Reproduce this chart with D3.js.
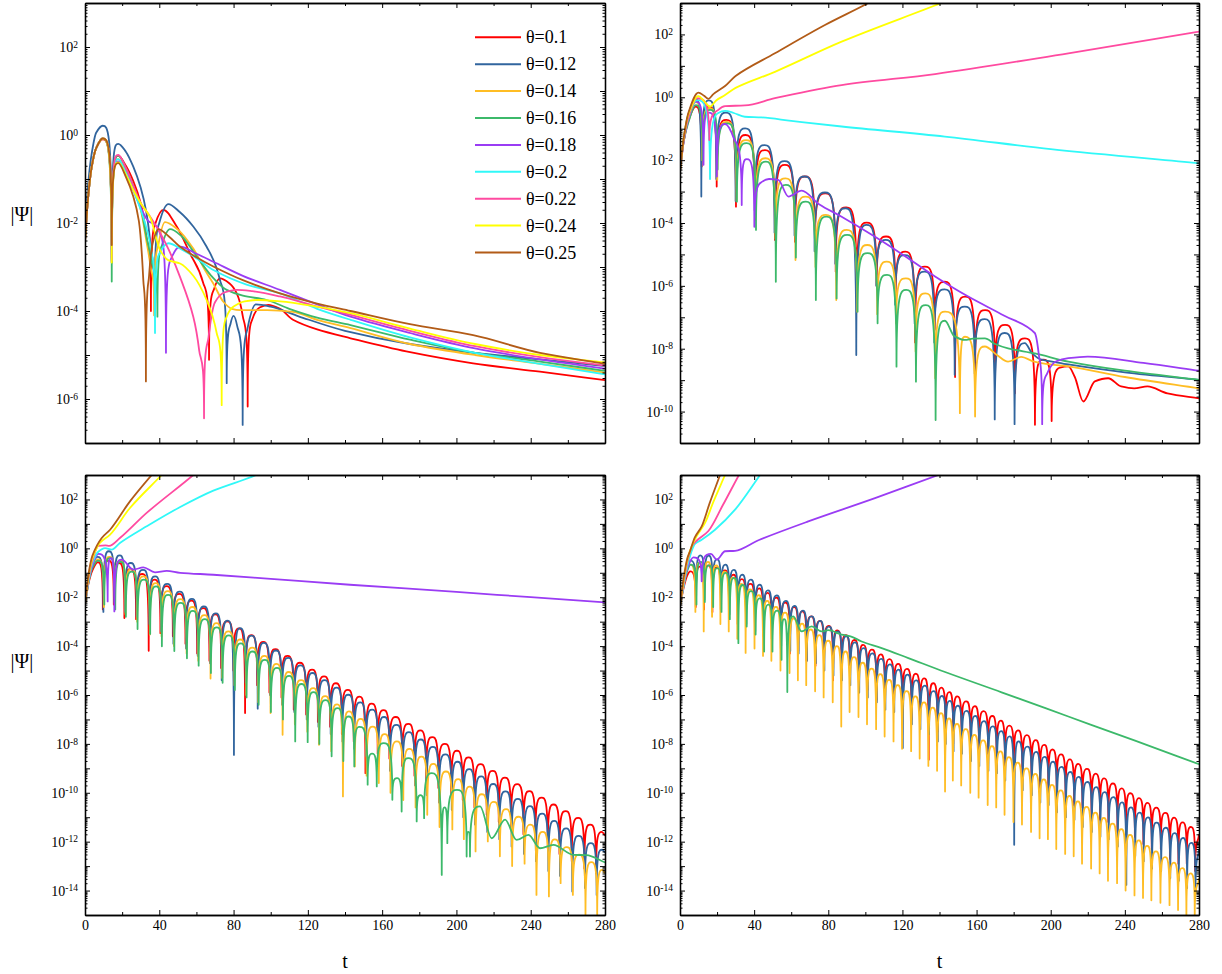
<!DOCTYPE html>
<html>
<head>
<meta charset="utf-8">
<script src="https://cdn.jsdelivr.net/npm/d3@7"></script>
<style>
  body { margin: 0; background: #fff; }
  text { font-family: "Liberation Serif", "Times New Roman", serif; fill: #000; }
</style>
</head>
<body>
<svg id="chart" width="1222" height="974"></svg>
<script>
// values are log10|Psi|, t on the x axis
const tMajor = [0, 40, 80, 120, 160, 200, 240, 280];
const tMinor = [20, 60, 100, 140, 180, 220, 260];
const thetas = ["θ=0.1", "θ=0.12", "θ=0.14", "θ=0.16", "θ=0.18", "θ=0.2", "θ=0.22", "θ=0.24", "θ=0.25"];
const colors = ["#ff0000", "#31659e", "#ffbd24", "#3cb96a", "#9a3cf4", "#30f8f8", "#ff4aa0", "#ffff00", "#b25b17"];

// ---- top left ----
const tlRed = [[0,-2.4],[1.5,-1.5],[3.5,-0.75],[6,-0.3],[9.5,-0.1],[14.4,-2.9],[17.9,-0.47],[22,-0.7],[26,-1.05],[30,-1.55],[33,-2.3],[35.5,-4.0],[38,-2.0],[42.2,-1.7],[49.4,-2.08],[56.5,-2.69],[63.7,-3.37],[66.8,-5.11],[69.5,-3.5],[72.7,-3.26],[78,-3.38],[81.7,-3.6],[85,-4.13],[87.6,-6.17],[90,-4.2],[94,-3.92],[98.7,-3.86],[105,-3.95],[112,-4.2],[125,-4.42],[143,-4.62],[173,-4.92],[209,-5.19],[245,-5.38],[280,-5.57]];
const tlBlue = [[0,-2.2],[1.5,-1.2],[3.5,-0.45],[6,0.05],[9.5,0.21],[14.4,-2.6],[17.9,-0.2],[22,-0.38],[26,-0.72],[30,-1.2],[33,-1.75],[35.5,-2.6],[37.5,-4.1],[40,-2.0],[44.9,-1.57],[51,-1.75],[58.3,-2.08],[65.5,-2.54],[72.7,-3.3],[76.3,-5.64],[78.3,-4.3],[80,-4.11],[82,-4.35],[84.9,-6.59],[87.5,-4.4],[92,-3.85],[100,-3.9],[115,-4.12],[140,-4.45],[175,-4.75],[210,-4.95],[245,-5.1],[280,-5.25]];
const tlOrange = [[0,-2.4],[1.5,-1.5],[3.5,-0.75],[6,-0.3],[9.5,-0.08],[14.4,-2.9],[17.9,-0.55],[22,-0.8],[26,-1.2],[30,-1.7],[33,-2.4],[35.3,-3.0],[37.3,-4.1],[39.5,-2.5],[43.1,-1.98],[50,-2.15],[58.3,-2.58],[65,-3.1],[69,-3.37],[74.5,-3.79],[79,-3.95],[83.5,-3.98],[90,-3.98],[98,-3.98],[112,-4.02],[125,-4.2],[143,-4.39],[175,-4.75],[210,-5.0],[245,-5.2],[280,-5.4]];
const tlGreen = [[0,-2.4],[1.5,-1.5],[3.5,-0.75],[6,-0.3],[9.5,-0.08],[14.4,-3.33],[17.9,-0.47],[22,-0.75],[26,-1.15],[30,-1.65],[33,-2.3],[36,-2.9],[39,-4.13],[41.5,-2.5],[45.8,-2.14],[52,-2.3],[60,-2.75],[68,-3.2],[76.3,-3.52],[85,-3.65],[97.8,-3.75],[110,-3.95],[125,-4.15],[143,-4.32],[175,-4.65],[210,-4.95],[245,-5.15],[280,-5.36]];
const tlPurple = [[0,-2.4],[1.5,-1.5],[3.5,-0.75],[6,-0.3],[9.5,-0.08],[14.4,-2.8],[17.9,-0.6],[22,-0.85],[26,-1.25],[30,-1.65],[34,-1.95],[38,-2.05],[40.4,-2.23],[43.6,-4.95],[46.5,-2.8],[51.2,-2.54],[60,-2.7],[69.1,-2.88],[85,-3.2],[105,-3.52],[125,-3.85],[143,-4.13],[175,-4.5],[210,-4.85],[245,-5.1],[280,-5.31]];
const tlCyan = [[0,-2.4],[1.5,-1.5],[3.5,-0.75],[6,-0.3],[9.5,-0.08],[14.4,-2.85],[17.9,-0.55],[22,-0.85],[26,-1.25],[30,-1.7],[33,-2.1],[35.5,-2.6],[37.7,-4.5],[40,-2.7],[44.9,-2.46],[52,-2.6],[60,-2.8],[69.1,-3.07],[87,-3.4],[105,-3.6],[125,-3.95],[143,-4.2],[175,-4.6],[210,-4.95],[245,-5.2],[280,-5.44]];
const tlPink = [[0,-2.4],[1.5,-1.5],[3.5,-0.75],[6,-0.3],[9.5,-0.08],[14.4,-2.85],[17.9,-0.45],[22,-0.75],[26,-1.15],[30,-1.55],[35,-1.85],[39.6,-2.16],[45,-2.6],[51.2,-3.23],[58.3,-4.13],[61.5,-4.9],[64.1,-6.44],[66.5,-4.6],[70,-3.8],[75,-3.58],[81.7,-3.52],[90,-3.55],[105,-3.67],[125,-3.9],[143,-4.09],[175,-4.45],[210,-4.8],[245,-5.05],[280,-5.24]];
const tlYellow = [[0,-2.4],[1.5,-1.5],[3.5,-0.75],[6,-0.3],[9.5,-0.08],[14.4,-2.9],[17.9,-0.62],[22,-0.9],[26,-1.25],[30,-1.55],[35,-1.86],[40.4,-2.61],[45,-2.85],[51.2,-2.92],[58.3,-3.2],[65.5,-3.75],[70.9,-4.5],[73.6,-6.14],[76.3,-4.13],[80,-3.9],[86,-3.78],[92.8,-3.75],[105,-3.78],[125,-3.9],[143,-4.05],[175,-4.4],[210,-4.75],[245,-5.0],[280,-5.17]];
const tlBrown = [[0,-2.45],[1.5,-1.5],[3.5,-0.75],[6,-0.3],[9.5,-0.08],[14.4,-2.5],[17.9,-0.64],[22,-0.95],[26,-1.4],[29,-1.95],[31.4,-3.3],[32.8,-5.6],[34.5,-3.2],[36.5,-2.45],[39.5,-2.14],[45,-2.3],[51.2,-2.54],[60,-2.78],[69.1,-2.99],[85,-3.3],[105,-3.6],[125,-3.83],[143,-4.0],[175,-4.3],[209,-4.55],[245,-4.95],[280,-5.2]];

// ---- top right ----
const trDipT = [11.7, 19.8, 30.2, 40.5, 51.2, 62.0, 72.8, 84.0, 95.3, 106.1, 116.3, 126.8, 137.4, 148.4, 159.2, 170.0, 180.7, 191.5, 200.5];
const trRedHead = [[0,-2.35],[2,-1.4],[4.5,-0.75],[8.4,-0.3]];
const trRedDips = [-2.2,-2.84,-3.48,-3.9,-4.54,-4.6,-4.7,-5.55,-6.3,-6.0,-6.5,-7.8,-7.4,-8.9,-8.77,-8.9,-9.42,-10.42,-10.3];
const trRedPeaks = [-0.3,-0.72,-1.2,-1.68,-2.15,-2.52,-3.06,-3.5,-3.99,-4.43,-4.91,-5.39,-5.87,-6.34,-6.77,-7.24,-7.67,-8.35];
const trRedTail = [[205,-8.6],[209.5,-8.56],[213,-8.9],[217.6,-9.68],[223.8,-9.04],[231,-8.94],[238,-9.2],[245,-9.26],[252.2,-9.2],[263,-9.42],[280,-9.58]];
const trBlueHead = [[0,-2.35],[2,-1.3],[4.5,-0.55],[8.4,-0.05]];
const trBlueDips = [-3.16,-2.6,-3.3,-3.6,-4.3,-4.4,-4.9,-5.3,-8.2,-6.0,-6.6,-7.2,-7.8,-8.83,-8.8,-10.25,-10.4];
const trBluePeaks = [-0.1,-0.49,-0.99,-1.52,-2.03,-2.52,-3.03,-3.53,-4.06,-4.54,-5.02,-5.55,-6.11,-6.66,-7.06,-7.5];
const trBlueTail = [[186,-7.82],[190,-8.15],[195,-8.35],[200,-8.4],[209.5,-8.5],[240,-8.75],[280,-8.99]];
const trOrangeHead = [[0,-2.35],[2,-1.35],[4.5,-0.7],[8.4,-0.15]];
const trOrangeDips = [-2.0,-2.63,-3.3,-3.8,-4.5,-5.18,-5.4,-6.45,-6.82,-6.9,-7.2,-8.09,-8.94];
const trOrangePeaks = [-0.35,-0.78,-1.36,-1.94,-2.58,-3.16,-3.74,-4.22,-4.7,-5.23,-5.76,-6.24];
const trOrangeTail = [[143,-6.82],[151,-10.05],[153.7,-7.62],[159.2,-10.16],[164.5,-7.93],[171,-8.2],[177,-8.41],[184,-8.26],[191,-8.41],[200,-8.5],[209.5,-8.56],[240,-8.9],[280,-9.26]];
const trGreenHead = [[0,-2.35],[2,-1.4],[4.5,-0.8],[8.4,-0.25]];
const trGreenDips = [-2.0,-2.3,-3.32,-4.22,-5.87,-5.1,-6.45,-6.4,-6.82,-7.19,-8.57,-9.05,-10.27];
const trGreenPeaks = [-0.4,-0.83,-1.46,-2.05,-2.79,-3.32,-3.8,-4.38,-4.96,-5.65,-6.13,-6.61];
const trGreenTail = [[142.9,-7.11],[148,-7.6],[153.7,-7.72],[158,-7.68],[164.5,-7.67],[170,-7.85],[177,-7.99],[191.5,-8.15],[209.5,-8.41],[240,-8.7],[280,-8.99]];
const trPurple = [[0,-2.35],[2,-1.4],[4.5,-0.7],[8.4,-0.14],[12.7,-2.15],[15.4,-0.49],[19.9,-2.52],[24.3,-0.85],[29,-1.3],[33.3,-3.43],[36,-1.97],[40.1,-4.12],[44,-2.7],[48,-2.6],[53,-2.63],[58.5,-3.16],[65.6,-2.97],[75,-3.4],[87.2,-3.8],[105,-4.43],[120,-5.0],[137.6,-5.7],[155.5,-6.34],[175,-6.95],[191.4,-7.5],[193.6,-8.2],[195.4,-10.4],[198,-8.8],[203,-8.4],[209.5,-8.3],[220,-8.25],[250,-8.45],[280,-8.7]];
const trCyan = [[0,-2.35],[2,-1.35],[4.5,-0.65],[9,-0.09],[16.2,-2.6],[20.7,-0.5],[24.3,-0.43],[29,-0.5],[35,-0.62],[44,-0.64],[60,-0.75],[87.2,-0.93],[142.9,-1.25],[200,-1.65],[280,-2.1]];
const trPink = [[0,-2.35],[2,-1.35],[4.5,-0.65],[9,-0.03],[15.8,-1.36],[20.7,-0.4],[24.3,-0.28],[35,-0.26],[51.2,-0.03],[87.2,0.39],[137.6,0.74],[209.5,1.4],[280,2.09]];
const trYellow = [[0,-2.35],[2,-1.3],[4.5,-0.55],[9.9,0.04],[13,-0.12],[16.2,-0.3],[19.5,-0.1],[24.3,0.07],[30,0.3],[51.2,0.81],[87.2,1.77],[141,3.0],[146,3.12]];
const trBrown = [[0,-2.35],[2,-1.3],[4.5,-0.5],[9.9,0.15],[13,0.05],[15.3,-0.05],[18,0.1],[24.3,0.36],[30,0.68],[51.2,1.4],[78.2,2.3],[101.6,3.0],[106,3.15]];

// ---- bottom left ----
const blDipT = [9.9, 15.8, 21.5, 27.8, 34.6, 40.9, 47.6, 54.4, 60.7, 67.3, 73.6, 80.2, 86.5, 93.0, 99.6, 106.1, 112.7, 119.4, 125.7, 132.3, 138.6, 145.0, 151.3, 157.9, 164.2, 171.1, 177.7, 184.0, 190.6, 197.5, 203.7, 210.0, 216.6, 223.1, 229.7, 236.4, 242.8, 249.5, 255.8, 262.4, 269.2, 275.5];
const blRedHead = [[0,-2.3],[2,-1.4],[4,-0.9],[6.8,-0.57]];
const blRedDips = [-2.5,-2.3,-2.85,-2.9,-4.19,-3.47,-3.6,-3.9,-4.3,-4.6,-4.9,-5.0,-6.74,-5.6,-5.9,-6.1,-6.6,-6.8,-7.1,-7.3,-7.6,-7.9,-9.2,-8.4,-8.6,-8.9,-9.3,-9.5,-9.8,-10.1,-10.3,-10.6,-10.9,-11.2,-11.4,-11.7,-12.0,-12.3,-12.5,-12.8,-13.1,-13.3];
const blRedPeaks = [-0.5,-0.6,-0.85,-1.05,-1.28,-1.55,-1.86,-2.14,-2.45,-2.7,-2.99,-3.28,-3.55,-3.83,-4.12,-4.4,-4.68,-4.96,-5.24,-5.52,-5.79,-6.07,-6.35,-6.62,-6.9,-7.18,-7.45,-7.72,-8.0,-8.28,-8.55,-8.83,-9.1,-9.38,-9.65,-9.93,-10.2,-10.48,-10.75,-11.03,-11.3];
const blRedTail = [[278.3,-11.6],[280,-11.75]];
const blBlueHead = [[0,-2.3],[2,-1.2],[4,-0.6],[6.8,-0.35]];
const blBlueDips = [-2.6,-2.2,-2.6,-2.8,-3.1,-3.4,-3.9,-4.1,-4.4,-4.7,-5.4,-8.45,-5.5,-6.56,-6.0,-6.4,-6.7,-7.0,-7.3,-7.6,-7.9,-8.2,-8.5,-8.8,-9.1,-9.4,-9.7,-10.1,-10.4,-10.7,-11.0,-11.3,-11.6,-11.9,-12.2,-12.5,-12.8,-13.2,-13.4,-14.04,-13.9,-14.18];
const blBluePeaks = [-0.12,-0.29,-0.6,-0.88,-1.15,-1.45,-1.77,-2.07,-2.38,-2.66,-2.96,-3.27,-3.57,-3.87,-4.18,-4.48,-4.79,-5.1,-5.39,-5.7,-5.99,-6.3,-6.6,-6.9,-7.22,-7.52,-7.82,-8.12,-8.43,-8.73,-9.03,-9.33,-9.64,-9.94,-10.25,-10.55,-10.85,-11.15,-11.46,-11.76,-12.06];
const blBlueTail = [[278.5,-12.33],[280,-12.45]];
const blOrangeHead = [[0,-2.3],[2,-1.3],[4,-0.75],[6.8,-0.45]];
const blOrangeDips = [-2.4,-2.3,-2.7,-3.0,-3.53,-3.6,-4.0,-4.3,-4.6,-5.33,-5.3,-5.6,-6.0,-6.3,-6.74,-7.63,-7.2,-7.5,-8.04,-8.3,-10.15,-8.92,-9.3,-9.6,-10.0,-10.3,-10.6,-10.9,-11.4,-11.5,-11.9,-12.4,-11.99,-12.6,-13.0,-12.9,-14.18,-14.24,-13.7,-14.18,-15.0,-15.06];
const blOrangePeaks = [-0.35,-0.5,-0.85,-1.15,-1.42,-1.75,-2.08,-2.4,-2.73,-3.06,-3.4,-3.73,-4.06,-4.4,-4.73,-5.06,-5.39,-5.72,-6.05,-6.38,-6.67,-6.98,-7.29,-7.6,-7.9,-8.2,-8.52,-8.82,-9.13,-9.44,-9.75,-10.06,-10.37,-10.67,-10.98,-11.3,-11.6,-11.91,-12.22,-12.53,-12.84];
const blOrangeTail = [[278.6,-13.15],[280,-13.3]];
const blGreenHead = [[0,-2.3],[2,-1.35],[4,-0.8],[6.8,-0.5]];
const blGreenDips = [-2.3,-2.5,-2.8,-3.3,-3.5,-4.01,-4.2,-4.5,-4.8,-5.1,-5.5,-5.8,-6.1,-6.4,-6.7,-7.0,-7.9,-7.93,-8.0,-8.51,-8.7];
const blGreenPeaks = [-0.4,-0.55,-0.95,-1.28,-1.56,-1.9,-2.23,-2.56,-2.9,-3.23,-3.56,-3.89,-4.22,-4.56,-4.89,-5.22,-5.55,-5.88,-6.21,-6.54];
const blGreenTail = [[142,-6.88],[145,-8.92],[147.8,-7.3],[152.2,-9.67],[154.6,-8.4],[157.1,-9.74],[160.8,-7.97],[165.5,-10.29],[168,-9.4],[170.5,-10.77],[174.1,-8.58],[178.6,-11.17],[180.6,-10.1],[182.6,-11.04],[186.7,-9.2],[192.1,-13.36],[193.6,-10.6],[195.1,-12.06],[200.3,-9.88],[205.5,-12.61],[206.4,-11.6],[207.3,-12.61],[212.7,-10.56],[219,-11.86],[226.2,-11.1],[232.4,-11.93],[238.8,-11.72],[245,-12.27],[252.2,-12.13],[263,-12.54],[270,-12.55],[280,-12.85]];
const blPurple = [[0,-2.3],[2,-1.3],[4,-0.7],[7.2,-0.23],[12.2,-2.17],[13.9,-0.4],[15.8,-2.58],[19.8,-0.46],[26,-0.87],[31.4,-0.78],[37.7,-0.98],[44,-0.92],[51.2,-1.0],[69.1,-1.08],[100,-1.25],[142.7,-1.49],[200,-1.78],[240,-2.0],[280,-2.21]];
const blCyan = [[0,-2.3],[2,-1.3],[4,-0.6],[7,-0.15],[10.8,0.01],[14.4,-0.05],[18.8,0.22],[33.2,0.9],[51,1.68],[69.1,2.36],[92.2,3.0],[96,3.15]];
const blPink = [[0,-2.3],[2,-1.2],[4,-0.5],[7.2,0.1],[11,0.12],[13,0.1],[18.8,0.42],[33.2,1.45],[58.3,3.0],[62,3.25]];
const blYellow = [[0,-2.3],[2,-1.1],[4,-0.4],[8,0.22],[13.5,0.56],[24.2,1.65],[41.3,3.0],[45,3.3]];
const blBrown = [[0,-2.3],[2,-1.0],[4,-0.3],[9,0.42],[13.5,0.76],[24.2,1.92],[35.9,3.0],[40,3.35]];

// ---- bottom right ----
const brDipT = [8.5, 13.0, 17.5, 22.0, 26.5, 31.1, 35.6, 40.4, 45.0, 49.5, 54.4, 59.3, 63.8, 68.3, 73.1, 77.7, 82.6, 87.2, 91.7, 96.5, 101.1, 106.0, 110.6, 115.4, 120.0, 124.9, 129.5, 134.2, 138.9, 143.2, 147.4, 151.9, 156.8, 161.3, 166.2, 170.8, 175.3, 180.1, 184.7, 189.6, 194.2, 198.7, 203.2, 208.0, 212.6, 217.1, 222.0, 226.6, 231.1, 236.0, 240.6, 245.4, 250.0, 254.5, 259.4, 264.3, 268.9, 273.4, 277.9];
const brRedHead = [[0,-2.37],[2,-1.6],[4,-1.1],[5.4,-0.94]];
const brRedDips = [-2.4,-2.5,-2.6,-2.5,-2.9,-3.1,-3.0,-3.5,-3.6,-3.7,-4.1,-4.3,-4.2,-4.6,-4.8,-4.9,-5.4,-5.2,-5.6,-5.9,-5.8,-6.2,-6.4,-6.3,-6.7,-7.0,-7.0,-8.65,-7.5,-7.6,-8.0,-7.9,-8.3,-8.5,-8.4,-8.9,-9.0,-9.1,-9.5,-9.5,-9.8,-10.0,-10.1,-10.4,-10.5,-10.6,-11.0,-11.1,-11.2,-11.6,-11.7,-11.8,-12.1,-12.3,-12.3,-12.7,-12.9,-12.9,-13.2];
const brRedPeaks = [-0.75,-0.7,-0.78,-0.9,-1.08,-1.26,-1.45,-1.64,-1.82,-2.02,-2.22,-2.4,-2.58,-2.78,-2.97,-3.17,-3.36,-3.55,-3.75,-3.95,-4.14,-4.34,-4.53,-4.73,-4.93,-5.13,-5.32,-5.52,-5.7,-5.88,-6.06,-6.26,-6.46,-6.66,-6.86,-7.05,-7.25,-7.45,-7.64,-7.85,-8.04,-8.23,-8.43,-8.63,-8.82,-9.02,-9.22,-9.41,-9.62,-9.82,-10.02,-10.22,-10.41,-10.61,-10.82,-11.02,-11.21,-11.4];
const brRedTail = [[280,-11.7]];
const brBlueHead = [[0,-2.37],[2,-1.4],[4.2,-0.6],[5.6,-0.5]];
const brBlueDips = [-2.2,-2.1,-2.3,-2.5,-2.7,-3.0,-3.1,-3.4,-3.5,-3.8,-4.0,-4.2,-4.3,-4.6,-4.7,-5.0,-5.2,-5.4,-5.6,-5.9,-6.1,-6.3,-6.6,-6.7,-8.17,-7.2,-7.4,-7.6,-7.9,-8.0,-8.3,-8.4,-8.7,-8.9,-9.1,-9.2,-9.5,-12.13,-9.9,-10.1,-10.4,-10.5,-10.8,-11.0,-11.1,-11.4,-11.6,-11.8,-11.9,-12.2,-13.77,-12.6,-12.8,-13.1,-13.2,-13.5,-13.6,-13.9,-14.1];
const brBluePeaks = [-0.29,-0.3,-0.45,-0.67,-0.88,-1.08,-1.28,-1.49,-1.72,-1.93,-2.15,-2.36,-2.55,-2.78,-2.97,-3.2,-3.4,-3.6,-3.85,-4.08,-4.3,-4.52,-4.75,-4.96,-5.17,-5.4,-5.62,-5.84,-6.04,-6.24,-6.44,-6.65,-6.86,-7.07,-7.28,-7.48,-7.69,-7.9,-8.11,-8.33,-8.53,-8.73,-8.94,-9.15,-9.35,-9.56,-9.77,-9.97,-10.18,-10.39,-10.6,-10.81,-11.01,-11.22,-11.43,-11.65,-11.85,-12.05];
const brBlueTail = [[280,-12.3]];
const brOrangeHead = [[0,-2.37],[2,-1.5],[4.2,-0.8],[5.6,-0.67]];
const brOrangeDips = [-2.6,-3.4,-2.8,-3.1,-3.4,-3.7,-4.28,-4.1,-4.4,-4.6,-5.0,-5.1,-5.4,-5.6,-5.85,-6.1,-6.3,-7.29,-6.7,-6.9,-7.2,-7.4,-7.7,-7.9,-8.2,-8.3,-8.6,-8.9,-9.1,-9.95,-9.5,-9.7,-10.0,-10.2,-10.5,-10.6,-10.9,-11.2,-11.3,-11.6,-11.86,-11.9,-12.3,-12.5,-12.6,-12.9,-13.1,-13.3,-13.6,-13.7,-14.0,-14.2,-14.3,-14.4,-14.5,-14.6,-14.8,-15.06,-15.0];
const brOrangePeaks = [-0.6,-0.55,-0.7,-0.95,-1.2,-1.45,-1.68,-1.92,-2.15,-2.4,-2.63,-2.86,-3.08,-3.32,-3.55,-3.78,-4.0,-4.22,-4.45,-4.68,-4.92,-5.15,-5.38,-5.6,-5.84,-6.06,-6.3,-6.52,-6.74,-6.96,-7.18,-7.4,-7.63,-7.86,-8.09,-8.31,-8.54,-8.77,-9.0,-9.23,-9.45,-9.68,-9.9,-10.13,-10.35,-10.58,-10.81,-11.03,-11.26,-11.49,-11.72,-11.95,-12.17,-12.4,-12.63,-12.86,-13.08,-13.3];
const brOrangeTail = [[280,-13.5]];
const brGreenHead = [[0,-2.37],[2,-1.5],[4,-0.9],[5.7,-0.67]];
const brGreenDips = [-2.3,-2.2,-2.4,-2.6,-2.9,-3.88,-3.2,-3.53,-4.22,-4.22,-4.56];
const brGreenPeaks = [-0.55,-0.7,-0.81,-1.0,-1.21,-1.5,-1.75,-2.05,-2.3,-2.55];
const brGreenTail = [[56.2,-2.9],[57.9,-5.88],[61.1,-2.78],[65.6,-3.4],[71,-3.19],[76.4,-3.4],[80,-3.35],[87.2,-3.53],[92,-3.6],[98,-3.81],[108.8,-4.08],[123.2,-4.49],[143,-5.06],[173.5,-5.89],[209.5,-6.88],[245.5,-7.87],[280,-8.83]];
const brPurple = [[0,-2.37],[2,-1.5],[4,-0.8],[7.2,-0.37],[11.7,-1.35],[16.7,-0.23],[19.8,-0.46],[24.3,-0.12],[29.7,-0.1],[42.3,0.33],[69.2,1.1],[105.2,2.05],[139.4,3.0],[145,3.15]];
const brCyan = [[0,-2.37],[2,-1.5],[4,-0.7],[8.1,0.18],[11.7,0.35],[18.9,0.76],[29.7,1.58],[43.2,3.0],[46,3.3]];
const brPink = [[0,-2.37],[2,-1.4],[4,-0.55],[6.5,0.1],[9.5,0.35],[15.3,0.71],[23,1.75],[31.8,3.0],[34,3.3]];
const brYellow = [[0,-2.37],[2,-1.3],[4,-0.45],[6.3,0.08],[9,0.5],[13.5,1.04],[18,1.9],[24.3,3.0],[26,3.3]];
const brBrown = [[0,-2.37],[2,-1.2],[4,-0.4],[5.4,-0.12],[8,0.45],[11.7,0.9],[16,1.85],[21.6,3.0],[23,3.3]];

// dips and lobe tops of a ringing curve, merged in time order
function lobes(dipT, dips, peaks, shift) {
  const pts = [];
  dips.forEach((v, i) => {
    pts.push([dipT[i] + shift, v]);
    if (i < peaks.length) pts.push([(dipT[i] + dipT[i + 1]) / 2 + shift, peaks[i]]);
  });
  return pts;
}

const panels = [
  {x0: 85, x1: 605, y0: 3, y1: 443, lo: -7, xLabels: false, title: 215,
   series: [tlRed, tlBlue, tlOrange, tlGreen, tlPurple, tlCyan, tlPink, tlYellow, tlBrown]},
  {x0: 680, x1: 1199, y0: 3, y1: 443, lo: -11, xLabels: false, title: null,
   series: [
     trRedHead.concat(lobes(trDipT, trRedDips, trRedPeaks, 0), trRedTail),
     trBlueHead.concat(lobes(trDipT, trBlueDips, trBluePeaks, -0.2), trBlueTail),
     trOrangeHead.concat(lobes(trDipT, trOrangeDips, trOrangePeaks, 0.3), trOrangeTail),
     trGreenHead.concat(lobes(trDipT, trGreenDips, trGreenPeaks, 0.5), trGreenTail),
     trPurple, trCyan, trPink, trYellow, trBrown]},
  {x0: 85, x1: 605, y0: 475, y1: 915, lo: -15, xLabels: true, title: 662,
   series: [
     blRedHead.concat(lobes(blDipT, blRedDips, blRedPeaks, -0.3), blRedTail),
     blBlueHead.concat(lobes(blDipT, blBlueDips, blBluePeaks, 0), blBlueTail),
     blOrangeHead.concat(lobes(blDipT, blOrangeDips, blOrangePeaks, 0.3), blOrangeTail),
     blGreenHead.concat(lobes(blDipT, blGreenDips, blGreenPeaks, 0.5), blGreenTail),
     blPurple, blCyan, blPink, blYellow, blBrown]},
  {x0: 680, x1: 1199, y0: 475, y1: 915, lo: -15, xLabels: true, title: null,
   series: [
     brRedHead.concat(lobes(brDipT, brRedDips, brRedPeaks, 0), brRedTail),
     brBlueHead.concat(lobes(brDipT, brBlueDips, brBluePeaks, 0.2), brBlueTail),
     brOrangeHead.concat(lobes(brDipT, brOrangeDips, brOrangePeaks, -0.2), brOrangeTail),
     brGreenHead.concat(lobes(brDipT, brGreenDips, brGreenPeaks, 0.4), brGreenTail),
     brPurple, brCyan, brPink, brYellow, brBrown]}
];

// smooth path, but sharp downward cusps where |Psi| passes through zero
function cuspPath(pts, vs) {
  const n = pts.length;
  const cusp = vs.map((v, i) => i > 0 && i < n - 1 && v < vs[i - 1] - 0.8 && v < vs[i + 1] - 0.8);
  const m = pts.map((p, i) => {
    if (i === 0) return (pts[1][1] - p[1]) / (pts[1][0] - p[0]);
    if (i === n - 1) return (p[1] - pts[i - 1][1]) / (p[0] - pts[i - 1][0]);
    const s0 = (p[1] - pts[i - 1][1]) / (p[0] - pts[i - 1][0]);
    const s1 = (pts[i + 1][1] - p[1]) / (pts[i + 1][0] - p[0]);
    return s0 * s1 <= 0 ? 0 : 2 * s0 * s1 / (s0 + s1);
  });
  let d = "M" + pts[0][0] + "," + pts[0][1];
  for (let i = 0; i < n - 1; i++) {
    const a = pts[i], b = pts[i + 1], dx = b[0] - a[0];
    let c1, c2;
    if (cusp[i]) c1 = [a[0], b[1]];
    else {
      const k = cusp[i + 1] && m[i] === 0 ? 0.55 : 1 / 3;
      c1 = [a[0] + k * dx, a[1] + m[i] * k * dx];
    }
    if (cusp[i + 1]) c2 = [b[0], a[1]];
    else {
      const k = cusp[i] && m[i + 1] === 0 ? 0.55 : 1 / 3;
      c2 = [b[0] - k * dx, b[1] - m[i + 1] * k * dx];
    }
    d += "C" + c1.join(",") + " " + c2.join(",") + " " + b.join(",");
  }
  return d;
}

const svg = d3.select("#chart");

panels.forEach((p, pi) => {
  const x = d3.scaleLinear().domain([0, 280]).range([p.x0, p.x1]);
  const y = d3.scaleLog().domain([Math.pow(10, p.lo), 1e3]).range([p.y1, p.y0]);
  const g = svg.append("g");

  g.append("clipPath").attr("id", "clip" + pi)
    .append("rect")
    .attr("x", p.x0).attr("y", p.y0)
    .attr("width", p.x1 - p.x0).attr("height", p.y1 - p.y0);

  const lines = g.append("g").attr("clip-path", "url(#clip" + pi + ")");
  p.series.forEach((s, si) => {
    const pts = s.map(d => [x(d[0]), y(Math.pow(10, d[1]))]);
    lines.append("path")
      .attr("d", cuspPath(pts, s.map(d => d[1])))
      .attr("fill", "none")
      .attr("stroke", colors[si])
      .attr("stroke-width", 1.8)
      .attr("stroke-linejoin", "round");
  });

  const decades = d3.range(p.lo, 4).map(e => Math.pow(10, e));
  const minors = [];
  d3.range(p.lo, 3).forEach(e => {
    for (let k = 2; k < 10; k++) minors.push(k * Math.pow(10, e));
  });

  const axes = g.append("g");
  // x axes, bottom and top
  axes.append("g").attr("transform", `translate(0,${p.y1})`)
    .call(d3.axisBottom(x).tickValues(tMajor).tickSizeInner(-5).tickSizeOuter(0).tickPadding(5)
      .tickFormat(p.xLabels ? d3.format("d") : () => ""));
  axes.append("g").attr("transform", `translate(0,${p.y1})`)
    .call(d3.axisBottom(x).tickValues(tMinor).tickSizeInner(-3).tickSizeOuter(0).tickFormat(() => ""));
  axes.append("g").attr("transform", `translate(0,${p.y0})`)
    .call(d3.axisTop(x).tickValues(tMajor).tickSizeInner(-5).tickSizeOuter(0).tickFormat(() => ""));
  axes.append("g").attr("transform", `translate(0,${p.y0})`)
    .call(d3.axisTop(x).tickValues(tMinor).tickSizeInner(-3).tickSizeOuter(0).tickFormat(() => ""));

  // y axes, left and right
  const left = axes.append("g").attr("transform", `translate(${p.x0},0)`)
    .call(d3.axisLeft(y).tickValues(decades).tickSizeInner(-5).tickSizeOuter(0).tickPadding(7)
      .tickFormat(() => ""));
  left.selectAll(".tick text").each(function(d) {
    const e = Math.round(Math.log10(d));
    if (e % 2 !== 0 || e > 2) return;
    const t = d3.select(this);
    t.text("10");
    t.append("tspan").attr("dy", "-0.45em").attr("font-size", "9.5px").text(String(e));
  });
  axes.append("g").attr("transform", `translate(${p.x0},0)`)
    .call(d3.axisLeft(y).tickValues(minors).tickSizeInner(-2.5).tickSizeOuter(0).tickFormat(() => ""));
  axes.append("g").attr("transform", `translate(${p.x1},0)`)
    .call(d3.axisRight(y).tickValues(decades).tickSizeInner(-5).tickSizeOuter(0).tickFormat(() => ""));
  axes.append("g").attr("transform", `translate(${p.x1},0)`)
    .call(d3.axisRight(y).tickValues(minors).tickSizeInner(-2.5).tickSizeOuter(0).tickFormat(() => ""));

  axes.selectAll(".domain").attr("stroke", "#000").attr("stroke-width", 1.3);
  axes.selectAll(".tick line").attr("stroke", "#000");
  axes.selectAll("text").attr("font-size", 14).attr("font-family", "Liberation Serif, Times New Roman, serif").attr("fill", "#000");

  if (p.xLabels) {
    svg.append("text").attr("x", (p.x0 + p.x1) / 2).attr("y", 968)
      .attr("text-anchor", "middle").attr("font-size", 20).text("t");
  }
  if (p.title !== null) {
    svg.append("text").attr("x", 22).attr("y", p.title + 6)
      .attr("text-anchor", "middle").attr("font-size", 20).text("|Ψ|");
  }
});

// legend in the top left panel
const legend = svg.append("g");
thetas.forEach((name, i) => {
  const yy = 37.3 + i * 26.9;
  legend.append("line")
    .attr("x1", 475).attr("x2", 521).attr("y1", yy).attr("y2", yy)
    .attr("stroke", colors[i]).attr("stroke-width", 2);
  legend.append("text")
    .attr("x", 526).attr("y", yy + 6)
    .attr("font-size", 18).text(name);
});
</script>
</body>
</html>
